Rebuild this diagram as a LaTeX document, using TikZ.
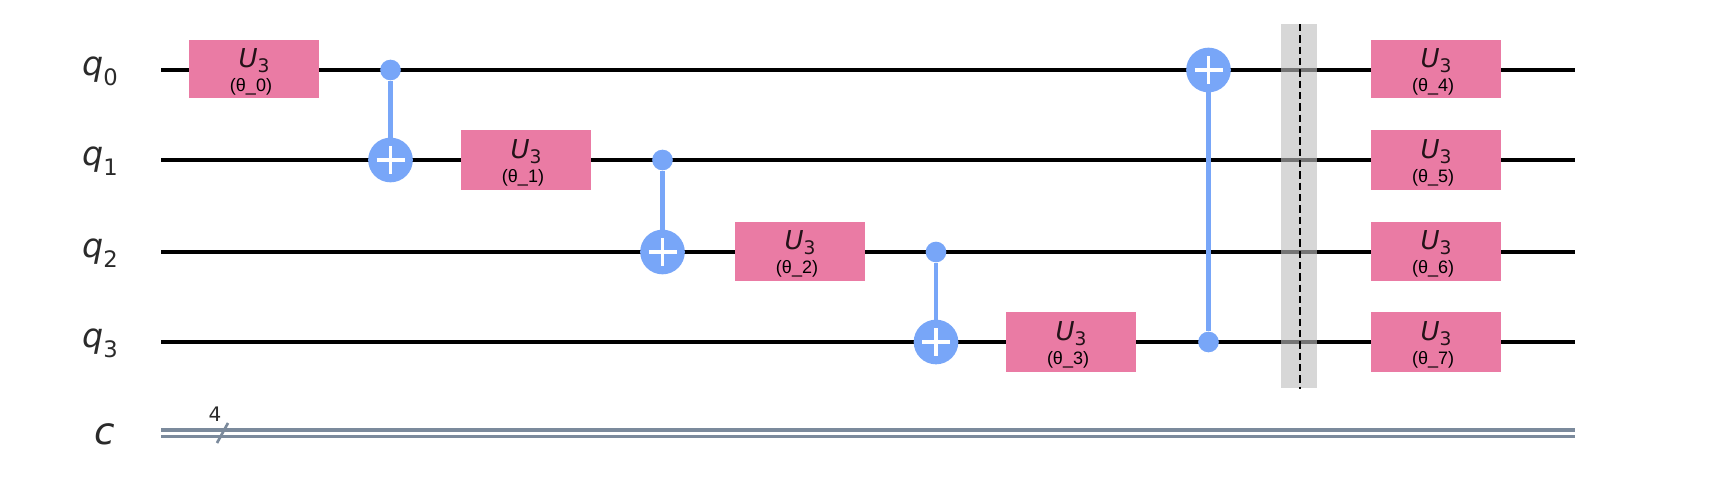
\documentclass[tikz,border=0pt]{standalone}
\usepackage{fontspec}
\setmainfont{DejaVu Sans}
\newfontfamily\gatefont{Liberation Sans}
\definecolor{gatepink}{HTML}{EA7BA4}
\definecolor{cxblue}{HTML}{78A6F8}
\definecolor{cwire}{HTML}{7B8A9C}
\definecolor{barriergray}{HTML}{BEBEBE}
\definecolor{labelink}{HTML}{2A2A2A}
\tikzset{
  x=0.75pt,y=-0.75pt,
  qwire/.style={line width=2.7pt,draw=black},
  cwireline/.style={line width=2.6pt,draw=cwire},
  ugate/.style={draw=none,fill=gatepink,minimum width=97.5pt,inner sep=0pt},
  ctrl/.style={circle,fill=cxblue,minimum size=15.5pt,inner sep=0pt},
  targ/.style={circle,fill=cxblue,minimum size=33.5pt,inner sep=0pt},
  link/.style={line width=3.2pt,draw=cxblue},
  plus/.style={line width=2.7pt,draw=white},
  wlabel/.style={font=\fontsize{25}{27}\selectfont,text=labelink,anchor=base,inner sep=0pt},
  clabel/.style={font=\fontsize{28}{30}\selectfont,text=labelink,anchor=base,inner sep=0pt},
  u/.style={font=\fontsize{19.5}{21}\selectfont,text=black!85!gatepink,anchor=base,inner sep=0pt},
  ang/.style={font=\gatefont\fontsize{13.5}{15}\selectfont,text=black,anchor=base,inner sep=0pt}
}
\newcommand{\ugatenode}[5]{% name, x, wire y, height in pt, index
  \node[ugate,minimum height=#4pt] (#1) at (#2,#3) {};
  \node[u] (#1u) at (#2,#3-2) {\itshape U\raisebox{-0.2em}{\fontsize{14}{16}\selectfont\upshape 3}};
  \node[ang] (#1a) at (#2-3,#3+22) {(θ\_#5)};
}
\newcommand{\targnode}[3]{% name, x, y
  \node[targ] (#1) at (#2,#3) {};
  \draw[plus] (#2-14,#3) -- (#2+14,#3) (#2,#3-14) -- (#2,#3+14);
}
\newcommand{\qsub}[1]{\itshape q\raisebox{-0.3em}{\fontsize{17}{19}\selectfont\upshape #1}}
\begin{document}
\begin{tikzpicture}
\useasboundingbox (0,0) rectangle (1728,496);
% wires
\foreach \n/\yy in {0/70,1/160,2/252,3/342}{
  \coordinate (ws\n) at (161,\yy);
  \coordinate (we\n) at (1575,\yy);
  \draw[qwire] (ws\n) -- (we\n);
}
\coordinate (csa) at (161,429.8);
\coordinate (cea) at (1575,429.8);
\coordinate (csb) at (161,436.3);
\coordinate (ceb) at (1575,436.3);
\draw[cwireline] (csa) -- (cea);
\draw[cwireline] (csb) -- (ceb);
\coordinate (sa) at (217,443);
\coordinate (sb) at (228,423);
\draw[line width=2pt,draw=cwire] (sa) -- (sb);
\node[font=\fontsize{15}{17}\selectfont,text=labelink,inner sep=0pt] (cnt) at (215,414) {4};
% labels
\node[wlabel] (lq0) at (100,75) {\qsub{0}};
\node[wlabel] (lq1) at (100,165) {\qsub{1}};
\node[wlabel] (lq2) at (100,257) {\qsub{2}};
\node[wlabel] (lq3) at (100,347) {\qsub{3}};
\node[clabel] (lc) at (105,444) {\itshape c};
% U3 gates
\ugatenode{g0}{254}{69}{43.5}{0}
\ugatenode{g1}{526}{160}{45}{1}
\ugatenode{g2}{800}{251.5}{44.5}{2}
\ugatenode{g3}{1071}{342}{45}{3}
\ugatenode{g4}{1436}{69}{43.5}{4}
\ugatenode{g5}{1436}{160}{45}{5}
\ugatenode{g6}{1436}{251.5}{44.5}{6}
\ugatenode{g7}{1436}{342}{45}{7}
% CX gates
\node[ctrl] (c0) at (390.5,70) {};
\node[ctrl] (c1) at (662.5,160) {};
\node[ctrl] (c2) at (936,252) {};
\node[ctrl] (c3) at (1208.5,342) {};
\draw[link] (c0) -- (390.5,160);
\draw[link] (c1) -- (662.5,252);
\draw[link] (c2) -- (936,342);
\draw[link] (c3) -- (1208.5,70);
\targnode{t0}{390.5}{160}
\targnode{t1}{662.5}{252}
\targnode{t2}{936}{342}
\targnode{t3}{1208.5}{70}
% barrier
\node[fill=barriergray,fill opacity=0.62,draw=none,inner sep=0pt,minimum width=27pt,minimum height=273pt] (bar) at (1299,206) {};
\coordinate (bt) at (1300,24);
\coordinate (bb) at (1300,389);
\draw[line width=1.2pt,black,dash pattern=on 5.5pt off 3pt] (bt) -- (bb);
\end{tikzpicture}
\end{document}
